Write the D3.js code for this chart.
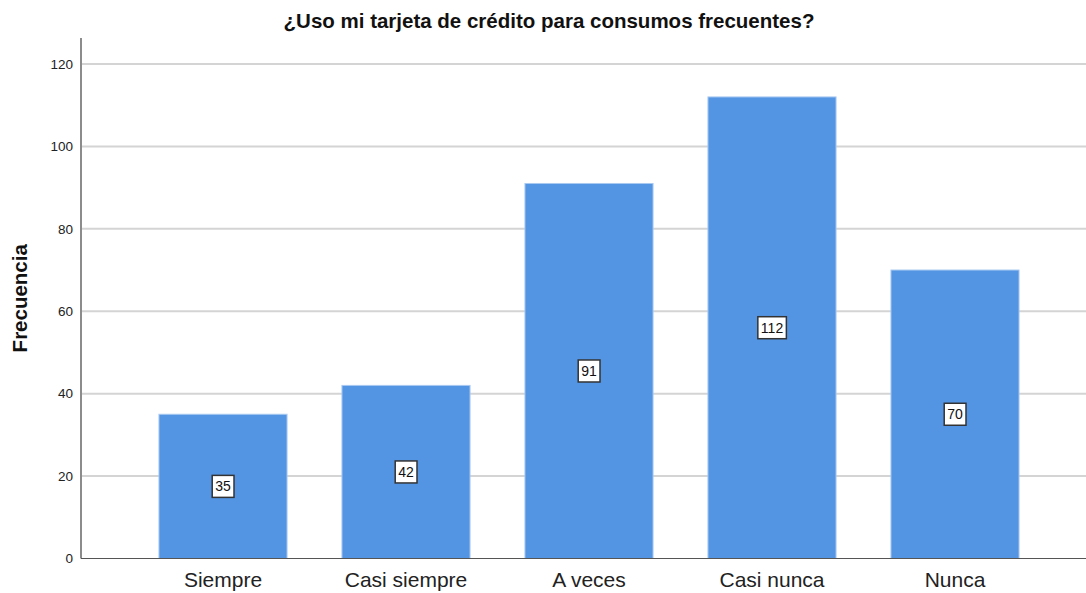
<!DOCTYPE html>
<html>
<head>
<meta charset="utf-8">
<script src="https://cdn.jsdelivr.net/npm/d3@7"></script>
<style>
  html, body { margin: 0; padding: 0; background: #fff; }
  svg { display: block; font-family: "Liberation Sans", Arial, sans-serif; }
</style>
</head>
<body>
<svg id="chart" width="1086" height="593"></svg>
<script>
const categories = ["Siempre", "Casi siempre", "A veces", "Casi nunca", "Nunca"];
const values = [35, 42, 91, 112, 70];
const yTicks = [0, 20, 40, 60, 80, 100, 120];
const title = "¿Uso mi tarjeta de crédito para consumos frecuentes?";
const yTitle = "Frecuencia";

const svg = d3.select("#chart");
const plot = { left: 81, right: 1086, top: 38, bottom: 558.5 };

const x = d3.scaleBand()
  .domain(categories)
  .range([131.5, 1046.5])
  .paddingInner(0.3)
  .paddingOuter(0.15);

const y = d3.scaleLinear()
  .domain([0, 126.3])
  .range([plot.bottom, plot.top]);

// horizontal gridlines
svg.append("g")
  .selectAll("line")
  .data(yTicks.filter(d => d > 0))
  .join("line")
  .attr("x1", plot.left)
  .attr("x2", plot.right)
  .attr("y1", d => y(d))
  .attr("y2", d => y(d))
  .attr("stroke", "#d4d4d4")
  .attr("stroke-width", 2);

// bars
svg.append("g")
  .selectAll("rect")
  .data(values)
  .join("rect")
  .attr("x", (d, i) => x(categories[i]))
  .attr("y", d => y(d))
  .attr("width", x.bandwidth())
  .attr("height", d => y(0) - y(d))
  .attr("fill", "#5495e3")
  .attr("stroke", "#a9c9f1")
  .attr("stroke-width", 1);

// y axis
const yAxis = d3.axisLeft(y).tickValues(yTicks).tickSize(0).tickPadding(8);
const ya = svg.append("g").attr("transform", `translate(${plot.left},0)`).call(yAxis);
ya.select(".domain").attr("stroke", "#8c8c8c").attr("stroke-width", 2)
  .attr("d", `M0,${plot.top}V${plot.bottom}`);
ya.selectAll("text").attr("font-size", 13.5).attr("fill", "#222")
  .attr("font-family", "Liberation Sans, Arial, sans-serif");

// x axis
const xAxis = d3.axisBottom(x).tickSize(0).tickPadding(13.5);
const xa = svg.append("g").attr("transform", `translate(0,${plot.bottom})`).call(xAxis);
xa.select(".domain").attr("stroke", "#555").attr("stroke-width", 1.2)
  .attr("d", `M${plot.left},0H${plot.right}`);
xa.selectAll("text").attr("font-size", 21).attr("fill", "#222")
  .attr("font-family", "Liberation Sans, Arial, sans-serif");

// value labels in boxes at bar mid-height
const lab = svg.append("g").selectAll("g")
  .data(values)
  .join("g")
  .attr("transform", (d, i) => `translate(${x(categories[i]) + x.bandwidth() / 2},${y(d / 2)})`);
lab.append("text")
  .attr("text-anchor", "middle")
  .attr("dy", "0.36em")
  .attr("font-size", 14)
  .attr("fill", "#111")
  .text(d => d)
  .each(function () {
    const bb = this.getBBox();
    d3.select(this.parentNode).insert("rect", "text")
      .attr("x", bb.x - 3)
      .attr("y", -11)
      .attr("width", bb.width + 6)
      .attr("height", 22)
      .attr("fill", "#fff")
      .attr("stroke", "#333")
      .attr("stroke-width", 1.5);
  });

// title
svg.append("text")
  .attr("x", 549)
  .attr("y", 28)
  .attr("text-anchor", "middle")
  .attr("font-size", 20.5)
  .attr("font-weight", "bold")
  .attr("fill", "#111")
  .text(title);

// y title
svg.append("text")
  .attr("transform", `translate(27,${(plot.top + plot.bottom) / 2 + 0}) rotate(-90)`)
  .attr("text-anchor", "middle")
  .attr("font-size", 20.5)
  .attr("font-weight", "bold")
  .attr("fill", "#111")
  .text(yTitle);
</script>
</body>
</html>
